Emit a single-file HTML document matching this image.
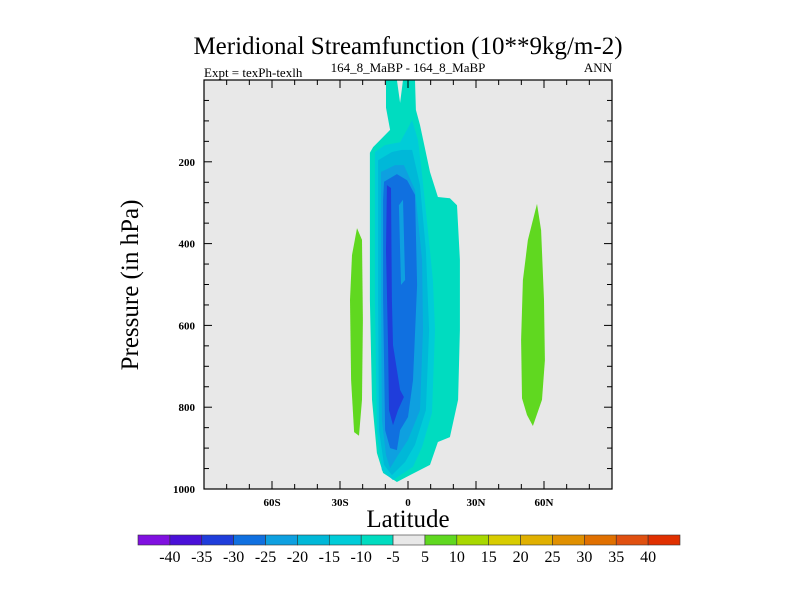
<!DOCTYPE html>
<html><head><meta charset="utf-8"><style>
body{margin:0;background:#fff;}
svg{display:block;font-family:"Liberation Serif",serif;}
</style></head><body>
<svg id="chart" width="800" height="600" viewBox="0 0 800 600">
<text x="408" y="54" font-size="25" text-anchor="middle">Meridional Streamfunction (10**9kg/m-2)</text>
<text x="204" y="77" font-size="13">Expt = texPh-texlh</text>
<text x="408" y="72" font-size="13" text-anchor="middle">164_8_MaBP - 164_8_MaBP</text>
<text x="612" y="72" font-size="13" text-anchor="end">ANN</text>
<rect x="204" y="80" width="408" height="409" fill="#e8e8e8"/>
<g id="contours"></g>
<g id="axes"></g>
<text x="408" y="527" font-size="25" text-anchor="middle">Latitude</text>
<text transform="translate(138,285) rotate(-90)" font-size="25" text-anchor="middle">Pressure (in hPa)</text>
<g id="colorbar"></g>
</svg>
<script>
const levelColors=["#8010e0","#4a10d8","#1f3ddb","#1070e0","#0ea0e0","#00b8d8","#00ccd8","#00dcc0","#e8e8e8","#60d820","#a8d800","#d8cc00","#e0b000","#e09000","#e07000","#e05010","#e03000"];
const levelLabels=["-40","-35","-30","-25","-20","-15","-10","-5","5","10","15","20","25","30","35","40"];
const xTickLats=[-60,-30,0,30,60];
const xTickLabels=["60S","30S","0","30N","60N"];
const yTickVals=[200,400,600,800,1000];
// contour polygons: [lat, pressure]
const contourMinus5=[[-9.7,0],[-4.9,0],[-3.5,56],[-2.2,0],[3.1,0],[3.5,73],[5.3,110],[9.7,225],[13.2,286],[18.5,289],[21.6,306],[22.9,440],[22.9,611],[22.1,782],[18.5,873],[13.2,885],[9.7,941],[0.9,966],[-4.9,983],[-11.0,961],[-13.7,912],[-15.9,782],[-16.8,538],[-16.8,178],[-15.4,164],[-7.9,122],[-9.7,68]];
const contourMinus10=[[-14.6,176],[-10.1,159],[-3.5,152],[0,117],[1.8,98],[4.4,147],[6.2,232],[8.8,367],[11.0,489],[11.9,611],[10.6,814],[6.2,897],[2.2,946],[-6.6,978],[-11.5,954],[-13.7,856],[-14.6,538]];
const contourMinus15=[[-13.2,196],[-7.1,176],[-2.6,171],[1.8,171],[5.3,257],[7.9,416],[9.3,611],[7.9,807],[3.1,892],[-1.3,934],[-7.1,966],[-10.6,941],[-12.8,856],[-13.2,538]];
const contourMinus20=[[-11.9,225],[-5.7,208],[-1.8,208],[3.1,269],[6.2,440],[6.6,611],[5.3,807],[0,880],[-4.4,917],[-7.9,949],[-9.7,917],[-11.5,831],[-11.9,538]];
const contourMinus25=[[-10.6,249],[-4.9,230],[-0.4,245],[3.1,281],[4.0,501],[2.2,734],[0,824],[-3.5,856],[-4.9,905],[-7.9,900],[-10.1,856],[-11.0,538],[-11.0,293]];
const notchMinus20=[[-4.0,306],[-2.2,293],[-1.3,489],[-3.1,501]];
const contourMinus30=[[-9.3,257],[-7.5,264],[-7.1,538],[-6.6,648],[-3.5,758],[-1.8,775],[-4.4,807],[-6.6,844],[-8.4,807],[-8.8,653],[-9.7,416]];
const contourPlus5West=[[-22.5,362],[-20.3,391],[-19.9,587],[-20.3,782],[-21.6,870],[-23.8,861],[-25.1,734],[-25.6,538],[-24.7,428]];
const contourPlus5East=[[56.9,303],[58.7,367],[60.0,538],[60.4,685],[59.1,782],[55.1,846],[52.5,819],[50.3,778],[49.9,636],[50.7,489],[52.9,391]];

const X0=204,X1=612,Y0=80,Y1=489;
const xs=lat=>X0+(lat+90)/180*(X1-X0);
const ys=p=>Y0+p/1000*(Y1-Y0);
const NS="http://www.w3.org/2000/svg";
function mk(tag,attrs,parent){const e=document.createElementNS(NS,tag);for(const k in attrs)e.setAttribute(k,attrs[k]);parent.appendChild(e);return e;}
const cg=document.getElementById('contours');
const polys=[[contourMinus5,7,'contour-minus5'],[contourMinus10,6,'contour-minus10'],[contourMinus15,5,'contour-minus15'],[contourMinus20,4,'contour-minus20'],[contourMinus25,3,'contour-minus25'],[notchMinus20,4,'contour-notch'],[contourMinus30,2,'contour-minus30'],[contourPlus5West,9,'contour-plus5-west'],[contourPlus5East,9,'contour-plus5-east']];
polys.forEach(([pts,ci,name])=>{
 const e=mk('polygon',{points:pts.map(d=>xs(d[0]).toFixed(1)+','+ys(d[1]).toFixed(1)).join(' '),fill:levelColors[ci]},cg);
 
 
});
const ag=document.getElementById('axes');
for(let lat=-80;lat<=80;lat+=10){
 const x=xs(lat),L=(lat%30===0)?8:5;
 mk('line',{x1:x,x2:x,y1:Y1,y2:Y1-L,stroke:'#000'},ag);
 mk('line',{x1:x,x2:x,y1:Y0,y2:Y0+L,stroke:'#000'},ag);
}
for(let p=50;p<1000;p+=50){
 const y=ys(p),L=(p%200===0)?8:5;
 mk('line',{x1:X0,x2:X0+L,y1:y,y2:y,stroke:'#000'},ag);
 mk('line',{x1:X1,x2:X1-L,y1:y,y2:y,stroke:'#000'},ag);
}
mk('rect',{x:X0,y:Y0,width:X1-X0,height:Y1-Y0,fill:'none',stroke:'#000','stroke-width':1.2},ag);
xTickLats.forEach((lat,i)=>{
 const t=mk('text',{x:xs(lat),y:Y1+17,'font-size':11,'font-weight':'bold','text-anchor':'middle'},ag);
 t.textContent=xTickLabels[i];
 
 
});
yTickVals.forEach(v=>{
 const t=mk('text',{x:X0-9,y:ys(v)+4,'font-size':11,'font-weight':'bold','text-anchor':'end'},ag);
 t.textContent=String(v);
 
 
});
const cb=document.getElementById('colorbar');
const CB0=138,CB1=680,CBY=535,CBH=10,bw=(CB1-CB0)/levelColors.length;
levelColors.forEach((c,i)=>{
 const r=mk('rect',{x:CB0+i*bw,y:CBY,width:bw,height:CBH,fill:c,stroke:'#333','stroke-width':0.6},cb);
 
 
});
levelLabels.forEach((l,i)=>{
 const t=mk('text',{x:CB0+(i+1)*bw,y:CBY+27,'font-size':16,'text-anchor':'middle'},cb);
 t.textContent=l;
 
 
});
</script>
</body></html>
